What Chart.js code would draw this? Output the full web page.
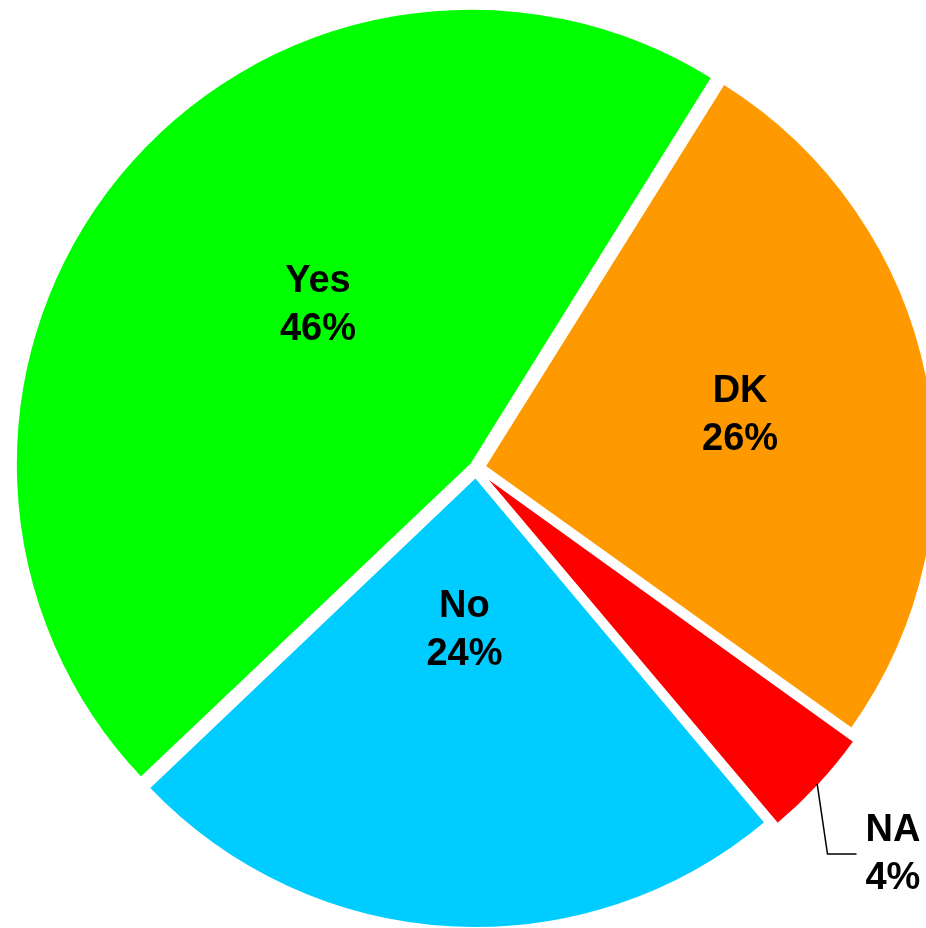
<!DOCTYPE html>
<html>
<head>
<meta charset="utf-8">
<title>Pie</title>
<script src="https://cdn.jsdelivr.net/npm/chart.js@4/dist/chart.umd.min.js"></script>
<style>
    html, body { margin: 0; padding: 0; background: #fff; }
    canvas { display: block; }
</style>
</head>
<body>
<canvas id="pieChart" width="926" height="928"></canvas>
<script>
// -------- DATA --------
const categories = ["Yes", "DK", "NA", "No"];
const shares = [46, 26, 4, 24];
const sliceColors = ["#00FF00", "#FF9900", "#FF0000", "#00CCFF"];

// -------- LABELS PLUGIN --------
// spots: [fraction of slice angle, fraction of radius] for each label
const pieLabels = {
    id: "pieLabels",
    afterDatasetsDraw(chart, args, opts) {
        const ctx = chart.ctx;
        const meta = chart.getDatasetMeta(0);
        const ds = chart.data.datasets[0];

        ctx.save();
        ctx.font = "bold 38px 'Liberation Sans', Arial, sans-serif";
        ctx.textAlign = "center";
        ctx.textBaseline = "middle";
        ctx.fillStyle = "#000";

        meta.data.forEach((arc, i) => {
            const p = arc.getProps(["x", "y", "startAngle", "endAngle", "outerRadius"], true);
            const [t, rf] = opts.spots[i];
            const ang = p.startAngle + (p.endAngle - p.startAngle) * t;
            const r = p.outerRadius * rf;
            const cx = p.x + Math.cos(ang) * r;
            const cy = p.y + Math.sin(ang) * r;

            const top = chart.data.labels[i];
            const bottom = ds.data[i] + "%";

            ctx.fillText(top, cx, cy - 24);
            ctx.fillText(bottom, cx, cy + 24);

            if (rf > 1) {
                // leader line from slice edge to label
                const mid = (p.startAngle + p.endAngle) / 2;
                const edge = p.outerRadius + 14;
                const w = Math.max(ctx.measureText(top).width, ctx.measureText(bottom).width);
                const endX = cx - w / 2 - 9;
                ctx.beginPath();
                ctx.moveTo(p.x + Math.cos(mid) * edge, p.y + Math.sin(mid) * edge);
                ctx.lineTo(endX - 29, cy);
                ctx.lineTo(endX, cy);
                ctx.strokeStyle = "#000";
                ctx.lineWidth = 1.5;
                ctx.stroke();
            }
        });
        ctx.restore();
    }
};

// -------- CHART --------
const ctx = document.getElementById("pieChart").getContext("2d");

const pieChart = new Chart(ctx, {
    type: "pie",
    data: {
        labels: categories,
        datasets: [{
            data: shares,
            backgroundColor: sliceColors,
            borderColor: "#fff",
            borderWidth: 2,
            offset: [24, 36, 36, 36],
            clip: false
        }]
    },
    options: {
        responsive: false,
        devicePixelRatio: 1,
        animation: false,
        rotation: -133.6,
        radius: 451,
        layout: { padding: { left: 26, top: 8, right: 0, bottom: 0 } },
        plugins: {
            legend: { display: false },
            tooltip: { enabled: false },
            pieLabels: {
                spots: [[0.54, 0.503], [0.5, 0.597], [0.5, 1.26], [0.51, 0.362]]
            }
        }
    },
    plugins: [pieLabels]
});
</script>
</body>
</html>
